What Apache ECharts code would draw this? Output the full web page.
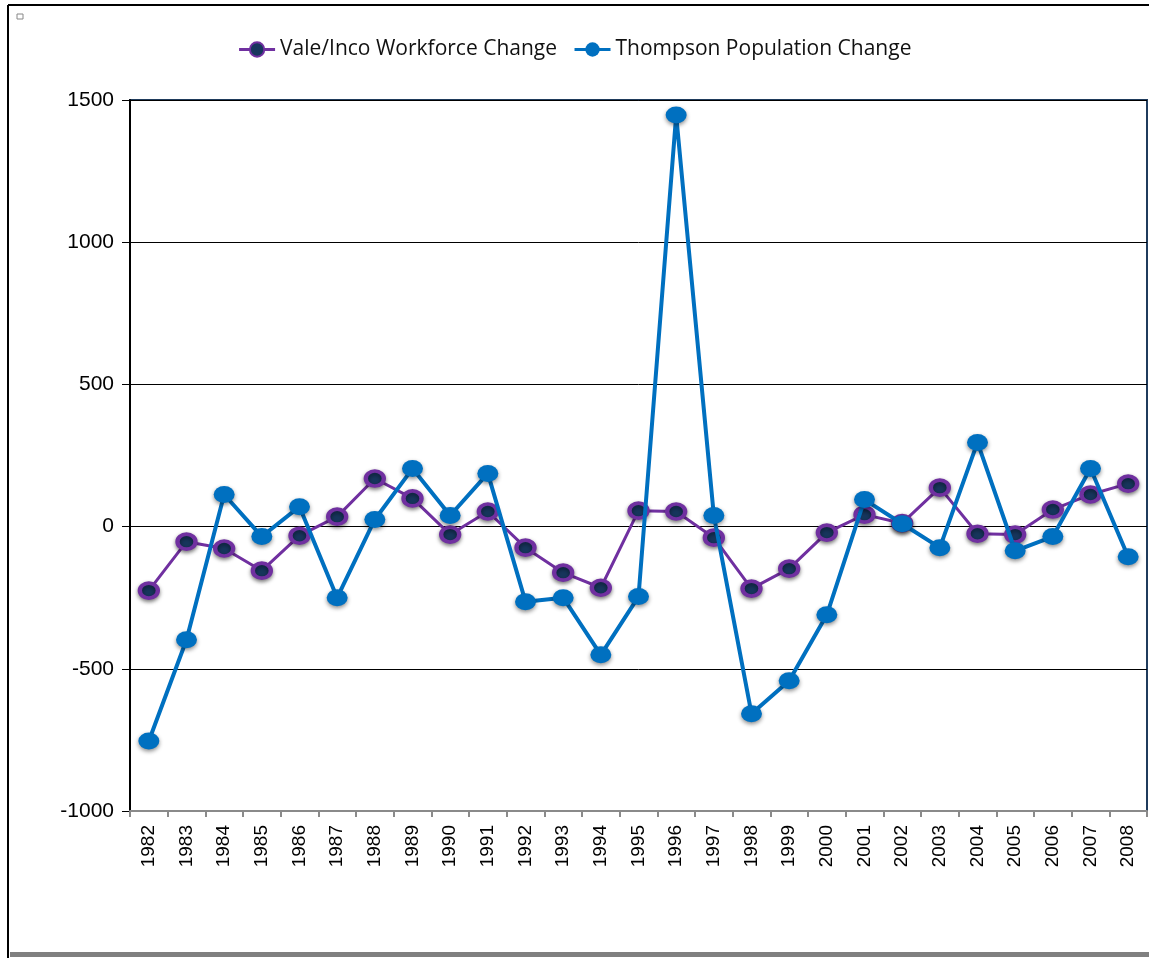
<!DOCTYPE html>
<html>
<head>
<meta charset="utf-8">
<script src="https://cdn.jsdelivr.net/npm/echarts@6/dist/echarts.min.js"></script>
<style>
  html, body { margin: 0; padding: 0; background: #fff; }
  #chart { width: 1149px; height: 958px; }
</style>
</head>
<body>
<div id="chart"></div>
<script>
let years = ['1982', '1983', '1984', '1985', '1986', '1987', '1988', '1989', '1990', '1991',
  '1992', '1993', '1994', '1995', '1996', '1997', '1998', '1999', '2000', '2001',
  '2002', '2003', '2004', '2005', '2006', '2007', '2008'];
let valeData = [-225, -53, -77, -155, -32, 35, 169, 99, -28, 53,
  -74, -162, -215, 56, 53, -39, -218, -148, -21, 42,
  12, 137, -25, -28, 60, 113, 151];
let thompsonData = [-754, -398, 113, -35, 70, -250, 25, 204, 39, 187,
  -264, -250, -451, -246, 1447, 39, -658, -542, -310, 95,
  10, -74, 296, -85, -35, 204, -106];
let seriesNames = ['Vale/Inco Workforce Change', 'Thompson Population Change'];

let chart = echarts.init(document.getElementById('chart'));
let option = {
  animation: false,
  backgroundColor: '#fff',
  legend: {
    top: 34,
    left: 'center',
    itemWidth: 36,
    itemHeight: 18,
    itemGap: 16,
    lineStyle: { width: 3 },
    textStyle: { fontFamily: 'Open Sans', fontSize: 21, color: '#111' },
    data: seriesNames
  },
  grid: {
    left: 130, right: 2, top: 100, bottom: 147,
    show: true, borderColor: '#1f3b5c', borderWidth: 2, backgroundColor: 'transparent'
  },
  xAxis: {
    type: 'category',
    data: years,
    boundaryGap: true,
    axisLine: { onZero: false, lineStyle: { color: '#8a8a8a', width: 2 } },
    axisTick: { show: true, length: 6, lineStyle: { color: '#8a8a8a', width: 2 } },
    axisLabel: {
      rotate: 90, margin: 14, interval: 0,
      fontFamily: 'Liberation Sans', fontSize: 19, color: '#000'
    },
    splitLine: { show: false }
  },
  yAxis: {
    type: 'value',
    min: -1000, max: 1500, interval: 500,
    axisLine: { show: true, lineStyle: { color: '#000', width: 2 } },
    axisTick: { show: true, length: 8, lineStyle: { color: '#000', width: 1 } },
    axisLabel: {
      margin: 16, fontFamily: 'Liberation Sans', fontSize: 21, color: '#000',
      formatter: function (v) { return String(v); }
    },
    splitLine: { show: true, lineStyle: { color: '#000', width: 1 } }
  },
  series: [
    {
      name: seriesNames[0],
      type: 'line',
      data: valeData,
      symbol: 'circle',
      symbolSize: [18, 15],
      lineStyle: { color: '#7030a0', width: 3 },
      itemStyle: {
        color: '#17365d', borderColor: '#7030a0', borderWidth: 4,
        shadowBlur: 4, shadowColor: 'rgba(0,0,0,0.45)', shadowOffsetY: 2
      },
      z: 2
    },
    {
      name: seriesNames[1],
      type: 'line',
      data: thompsonData,
      symbol: 'circle',
      symbolSize: [21, 17],
      lineStyle: { color: '#0070c0', width: 4 },
      itemStyle: {
        color: '#0070c0', borderWidth: 0,
        shadowBlur: 4, shadowColor: 'rgba(0,0,0,0.45)', shadowOffsetY: 2
      },
      z: 3
    }
  ],
  graphic: [
    { type: 'line', shape: { x1: 8, y1: 5, x2: 8, y2: 958 }, style: { stroke: '#000', lineWidth: 2 } },
    { type: 'line', shape: { x1: 8, y1: 5, x2: 1149, y2: 5 }, style: { stroke: '#000', lineWidth: 2 } },
    { type: 'rect', shape: { x: 17, y: 14, width: 6, height: 5 }, style: { fill: '#fff', stroke: '#888', lineWidth: 1 } },
    { type: 'rect', shape: { x: 10, y: 952, width: 1139, height: 5 }, style: { fill: '#808080' } }
  ]
};
chart.setOption(option);
</script>
</body>
</html>
